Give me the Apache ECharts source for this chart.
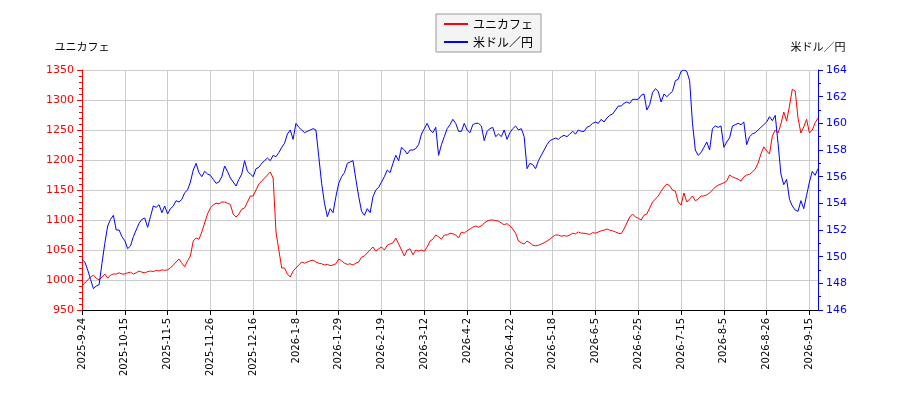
<!DOCTYPE html>
<html><head><meta charset="utf-8">
<script src="https://cdn.jsdelivr.net/npm/echarts@6/dist/echarts.min.js"></script>
<style>html,body{margin:0;padding:0;background:#fff}#c{width:900px;height:400px}</style>
</head><body><div id="c"></div>
<script>
const tickLabels=["2025-9-24","2025-10-15","2025-11-5","2025-11-26","2025-12-16","2026-1-8","2026-1-29","2026-2-19","2026-3-12","2026-4-2","2026-4-22","2026-5-18","2026-6-5","2026-6-25","2026-7-15","2026-8-5","2026-8-26","2026-9-15"];
const uniCafe=[
990,995,1000,1005,1008,1003,1000,1005,1010,1003,1008,1010,1010,1012,1010,
1010,1012,1013,1010,1012,1015,1013,1012,1014,1015,1014,1016,1015,1017,1016,
1017,1020,1025,1030,1035,1028,1022,1032,1040,1065,1070,1068,1080,1095,1110,
1120,1125,1128,1127,1130,1130,1128,1126,1110,1105,1110,1118,1120,1130,1140,
1140,1150,1160,1165,1170,1175,1180,1170,1080,1050,1020,1020,1010,1005,1015,
1020,1025,1030,1028,1030,1032,1033,1030,1028,1027,1025,1026,1024,1025,1027,
1035,1032,1028,1026,1027,1025,1028,1030,1038,1040,1045,1050,1055,1048,1052,
1055,1050,1058,1060,1062,1070,1060,1050,1040,1050,1052,1042,1050,1048,1050,
1048,1055,1065,1068,1075,1072,1068,1075,1075,1078,1077,1075,1070,1080,1078,
1082,1085,1088,1090,1088,1090,1095,1098,1100,1100,1099,1098,1095,1092,1094,
1090,1085,1078,1065,1062,1060,1065,1062,1058,1057,1058,1060,1062,1065,1068,
1072,1075,1075,1073,1074,1073,1075,1078,1077,1080,1078,1078,1077,1076,1079,
1078,1080,1082,1083,1085,1083,1082,1080,1078,1077,1085,1095,1105,1110,1105,
1103,1100,1108,1110,1120,1130,1135,1140,1148,1155,1160,1157,1150,1148,1130,
1125,1145,1130,1135,1140,1132,1135,1140,1140,1142,1145,1150,1155,1158,1160,
1162,1165,1175,1172,1170,1168,1165,1172,1175,1176,1180,1185,1195,1210,1222,
1215,1210,1240,1250,1245,1260,1280,1265,1290,1318,1315,1270,1245,1255,1268,
1245,1250,1262,1270];
const usdJpy=[
149.8,149.6,149.0,148.3,147.6,147.8,147.9,149.5,151.0,152.3,152.8,153.1,152.0,152.0,151.5,
151.2,150.6,150.8,151.5,152.0,152.5,152.8,152.9,152.2,153.0,153.8,153.7,153.9,153.3,153.8,
153.2,153.6,153.8,154.2,154.1,154.3,154.8,155.0,155.6,156.5,157.0,156.3,156.0,156.4,156.2,
156.1,155.8,155.5,155.6,156.0,156.8,156.4,155.9,155.6,155.3,155.8,156.2,157.2,156.4,156.2,
156.0,156.6,156.7,157.0,157.2,157.4,157.2,157.6,157.5,157.8,158.2,158.5,159.2,159.5,158.8,
160.0,159.7,159.5,159.3,159.4,159.5,159.6,159.5,157.5,155.5,154.0,153.0,153.6,153.3,154.5,
155.5,156.0,156.3,157.0,157.1,157.2,155.8,154.5,153.4,153.1,153.6,153.3,154.5,155.0,155.2,
155.6,156.0,156.5,156.3,157.0,157.6,157.2,158.2,158.0,157.7,158.0,158.0,158.1,158.4,159.2,
159.6,160.0,159.5,159.3,159.7,157.6,158.4,159.0,159.6,159.9,160.3,160.0,159.4,159.4,160.0,
159.5,159.3,159.9,160.0,160.0,159.8,158.7,159.4,159.6,159.7,159.0,159.2,159.0,159.5,158.8,
159.3,159.6,159.8,159.5,159.6,159.0,156.6,157.0,156.9,156.6,157.2,157.6,158.0,158.4,158.7,
158.8,158.9,158.8,159.0,159.1,159.0,159.2,159.4,159.2,159.5,159.4,159.4,159.7,159.8,160.0,
160.1,160.0,160.3,160.1,160.4,160.6,160.7,161.0,161.3,161.3,161.5,161.6,161.5,161.8,161.8,
161.8,162.1,162.2,161.0,161.4,162.3,162.6,162.4,161.6,162.2,162.0,162.2,162.4,163.2,163.3,
163.9,164.0,163.9,163.2,160.0,158.0,157.6,157.8,158.2,158.6,158.0,159.6,159.8,159.7,159.8,
158.2,158.6,158.9,159.8,159.9,160.0,159.9,160.1,158.4,159.0,159.2,159.3,159.5,159.7,159.9,
160.1,160.5,160.2,160.6,158.5,156.2,155.4,155.8,154.3,153.8,153.5,153.4,154.2,153.6,154.6,
155.6,156.4,156.1,156.6];
const cats=uniCafe.map((_,i)=>i%15===0&&tickLabels[i/15]?tickLabels[i/15]:String(i));
const isTick=(i)=>i%15===0&&i/15<tickLabels.length;
const chart=echarts.init(document.getElementById('c'));
const font='"Noto Sans CJK JP", sans-serif';
chart.setOption({
  animation:false,
  textStyle:{fontFamily:font},
  legend:{top:14,left:436,orient:'vertical',itemWidth:24,itemHeight:2,itemGap:6,
    borderColor:'#999',borderWidth:1,padding:[4,8],backgroundColor:'#f4f4f4',
    textStyle:{fontSize:12,color:'#000'},
    data:[{name:'ユニカフェ',icon:'rect'},{name:'米ドル／円',icon:'rect'}]},
  grid:{left:82,right:82,top:70,bottom:90},
  xAxis:{type:'category',data:cats,boundaryGap:false,
    axisLine:{lineStyle:{color:'#000'}},
    axisTick:{interval:(i)=>isTick(i),lineStyle:{color:'#000'}},
    axisLabel:{interval:(i)=>isTick(i),rotate:90,fontSize:10,color:'#000',fontFamily:'DejaVu Sans'},
    splitLine:{show:true,interval:(i)=>isTick(i),lineStyle:{color:'#ccc'}}},
  yAxis:[
    {type:'value',min:950,max:1350,interval:50,name:'ユニカフェ',nameGap:18,
     nameTextStyle:{align:'center',color:'#000',fontSize:11,padding:[0,0,0,0]},
     axisLine:{show:true,lineStyle:{color:'#f00'}},axisTick:{show:true},
     minorTick:{show:true,splitNumber:5,lineStyle:{color:'#f00'}},
     axisLabel:{color:'#f00',fontSize:11,fontFamily:'DejaVu Sans',formatter:(v)=>String(v)},splitLine:{lineStyle:{color:'#ccc'}}},
    {type:'value',min:146,max:164,interval:2,name:'米ドル／円',nameGap:18,
     nameTextStyle:{align:'center',color:'#000',fontSize:11},
     axisLine:{show:true,lineStyle:{color:'#00f'}},axisTick:{show:true},
     minorTick:{show:true,splitNumber:2,lineStyle:{color:'#00f'}},
     axisLabel:{color:'#00f',fontSize:11,fontFamily:'DejaVu Sans'},splitLine:{show:false}}
  ],
  series:[
    {name:'ユニカフェ',type:'line',data:uniCafe,yAxisIndex:0,showSymbol:false,color:'#f00',lineStyle:{width:1}},
    {name:'米ドル／円',type:'line',data:usdJpy,yAxisIndex:1,showSymbol:false,color:'#00f',lineStyle:{width:1}}
  ]
});
</script></body></html>
